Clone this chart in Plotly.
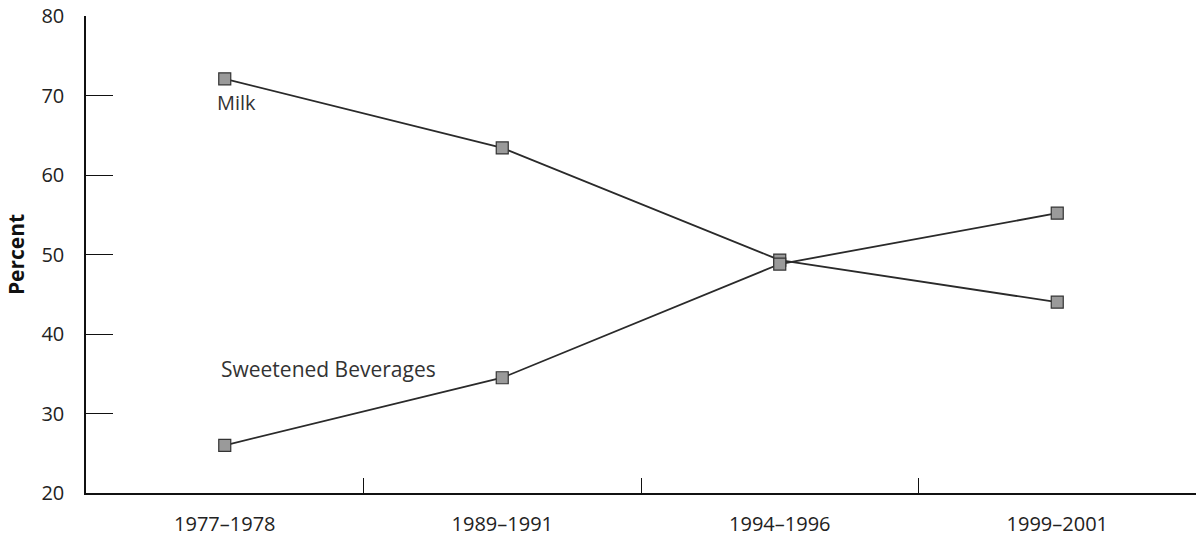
import plotly.graph_objects as go

periods = ["1977–1978", "1989–1991", "1994–1996", "1999–2001"]
milk = [72.1, 63.4, 49.3, 44.0]
sweetened = [26.0, 34.5, 48.8, 55.2]
y_ticks = [20, 30, 40, 50, 60, 70, 80]

line_col = "#2a2a2a"
marker = dict(symbol="square", size=12, color="#9a9a9a", line=dict(color="#333333", width=1.2))
font_fam = "Open Sans, Liberation Sans, sans-serif"

fig = go.Figure()
fig.add_trace(go.Scatter(x=periods, y=milk, mode="lines+markers", name="Milk",
                         line=dict(color=line_col, width=1.8), marker=marker))
fig.add_trace(go.Scatter(x=periods, y=sweetened, mode="lines+markers", name="Sweetened Beverages",
                         line=dict(color=line_col, width=1.8), marker=marker))

fig.add_annotation(x=periods[0], y=milk[0], text="Milk", showarrow=False,
                   xanchor="left", yanchor="middle", xshift=-10, yshift=-24,
                   font=dict(family=font_fam, size=20, color="#333333"))
fig.add_annotation(x=periods[0], y=35.6, text="Sweetened Beverages", showarrow=False,
                   xanchor="left", yanchor="middle", xshift=-6,
                   font=dict(family=font_fam, size=21, color="#333333"))

fig.update_layout(
    width=1196, height=537,
    margin=dict(l=86, r=0, t=16, b=44),
    paper_bgcolor="white", plot_bgcolor="white",
    showlegend=False,
    font=dict(family=font_fam, size=18, color="#222222"),
)
fig.update_xaxes(type="category", range=[-0.5, 3.5], showgrid=False, zeroline=False,
                 automargin=False,
                 showline=True, linecolor="#111111", linewidth=1.5,
                 ticks="inside", tickson="boundaries", ticklen=15, tickcolor="#111111", tickwidth=1.2,
                 ticklabelstandoff=12, tickfont=dict(size=20, color="#222222"))
fig.update_yaxes(range=[20, 80], tickvals=y_ticks, showgrid=False, zeroline=False,
                 automargin=False,
                 showline=True, linecolor="#111111", linewidth=1.5,
                 ticks="inside", ticklen=27, tickcolor="#111111", tickwidth=1.2,
                 ticklabelstandoff=16, ticklabeloverflow="allow",
                 tickfont=dict(size=20, color="#222222"),
                 title=dict(text="<b>Percent</b>", font=dict(size=21, color="#111111"), standoff=11))

# remove the page's default 8px body margin so the figure fills the window exactly
fig.write_html("out.html", config={"displayModeBar": False},
               post_script="document.body.style.margin='0';")
